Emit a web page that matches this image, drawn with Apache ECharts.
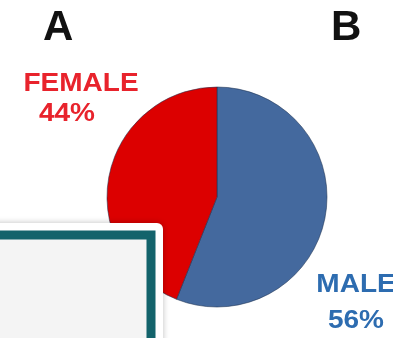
<!DOCTYPE html>
<html>
<head>
<meta charset="utf-8">
<script src="https://cdn.jsdelivr.net/npm/echarts@6/dist/echarts.min.js"></script>
<style>
  html, body { margin: 0; padding: 0; background: #ffffff; }
  #chart { width: 393px; height: 338px; }
</style>
</head>
<body>
<div id="chart"></div>
<script>
// Sex distribution shown in panel A/B
const categories = ['MALE', 'FEMALE'];
const percentages = [56, 44];
const sliceColors = ['#44699e', '#dc0000'];
const labelColors = ['#2d6cb0', '#e8232c'];
const panelLetters = ['A', 'B'];

const chart = echarts.init(document.getElementById('chart'), null, { renderer: 'canvas' });

const font = '"Liberation Sans", Arial, sans-serif';

// wide bold label centred on (cx, y)
function label(text, cx, y, color) {
  return {
    type: 'text', x: cx, y: y, scaleX: 1.12,
    style: { text: text, font: 'bold 25px ' + font, fill: color, align: 'center', verticalAlign: 'top' }
  };
}

const option = {
  animation: false,
  backgroundColor: '#ffffff',
  series: [{
    type: 'pie',
    center: [217, 197],
    radius: [0, 110],
    startAngle: 90,
    clockwise: true,
    label: { show: false },
    labelLine: { show: false },
    emphasis: { disabled: true },
    itemStyle: { borderColor: 'rgba(30,50,80,0.55)', borderWidth: 1 },
    data: categories.map((c, i) => ({
      name: c,
      value: percentages[i],
      itemStyle: { color: sliceColors[i] }
    }))
  }],
  graphic: [
    { type: 'text', left: 59 - 16, top: 7,
      style: { text: panelLetters[0], font: 'bold 42px ' + font, fill: '#111111' } },
    { type: 'text', left: 346 - 15, top: 7,
      style: { text: panelLetters[1], font: 'bold 42px ' + font, fill: '#111111' } },
    label(categories[1], 81, 72, labelColors[1]),
    label(percentages[1] + '%', 67, 102, labelColors[1]),
    label(categories[0], 356, 273, labelColors[0]),
    label(percentages[0] + '%', 356, 309, labelColors[0]),
    // framed inset panel overlapping the lower-left corner
    { type: 'rect', z: 100,
      shape: { x: -20, y: 223, width: 183, height: 140, r: [0, 6, 0, 0] },
      style: { fill: '#ffffff', shadowBlur: 6, shadowColor: 'rgba(0,0,0,0.25)', shadowOffsetX: 0, shadowOffsetY: 0 } },
    { type: 'rect', z: 101,
      shape: { x: -20, y: 235, width: 171, height: 140 },
      style: { fill: '#f4f4f4', stroke: '#13636b', lineWidth: 9 } }
  ]
};

chart.setOption(option);
</script>
</body>
</html>
